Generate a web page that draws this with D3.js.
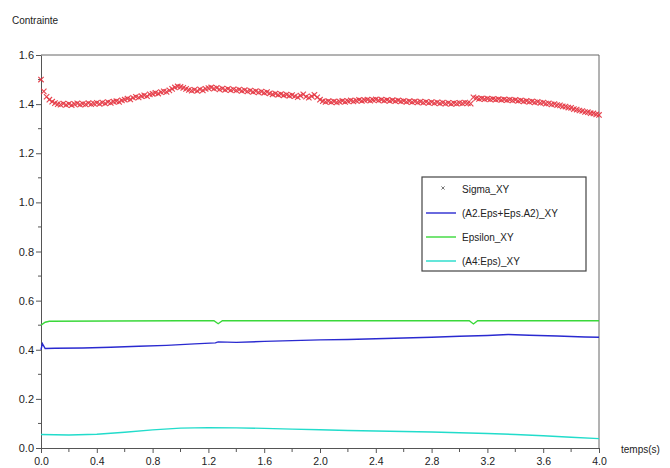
<!DOCTYPE html>
<html>
<head>
<meta charset="utf-8">
<script src="https://cdn.jsdelivr.net/npm/d3@7/dist/d3.min.js"></script>
<style>
html,body{margin:0;padding:0;background:#fff;}
svg{display:block;font-family:"Liberation Sans",Arial,sans-serif;}
</style>
</head>
<body>
<svg id="chart" width="670" height="468"></svg>
<script>
// ---- data ----
const sigmaStep = 0.02;
const sigmaValues = [
 1.500,1.452,1.430,1.418,1.410,1.404,1.400,1.398,1.402,1.397,
 1.401,1.396,1.400,1.403,1.398,1.401,1.399,1.404,1.400,1.402,
 1.405,1.401,1.406,1.403,1.408,1.405,1.410,1.412,1.409,1.415,
 1.418,1.422,1.419,1.426,1.430,1.427,1.433,1.436,1.432,1.440,
 1.442,1.446,1.443,1.449,1.452,1.450,1.456,1.462,1.468,1.472,
 1.470,1.466,1.462,1.458,1.455,1.458,1.454,1.460,1.456,1.462,
 1.465,1.468,1.463,1.466,1.460,1.463,1.458,1.462,1.457,1.460,
 1.456,1.459,1.454,1.457,1.452,1.455,1.450,1.453,1.448,1.451,
 1.446,1.449,1.444,1.440,1.443,1.438,1.441,1.436,1.439,1.434,
 1.437,1.432,1.428,1.435,1.440,1.430,1.426,1.432,1.438,1.428,
 1.418,1.412,1.409,1.412,1.408,1.411,1.407,1.410,1.413,1.409,
 1.412,1.415,1.411,1.414,1.417,1.413,1.416,1.418,1.414,1.417,
 1.419,1.415,1.418,1.414,1.417,1.413,1.416,1.412,1.415,1.411,
 1.413,1.409,1.412,1.408,1.411,1.407,1.410,1.406,1.409,1.405,
 1.408,1.404,1.407,1.403,1.406,1.402,1.405,1.401,1.404,1.402,
 1.405,1.403,1.406,1.404,1.402,1.428,1.424,1.421,1.423,1.420,
 1.422,1.419,1.421,1.418,1.420,1.417,1.419,1.416,1.418,1.415,
 1.417,1.413,1.415,1.411,1.413,1.409,1.411,1.407,1.409,1.405,
 1.406,1.402,1.403,1.399,1.400,1.396,1.395,1.391,1.390,1.386,
 1.385,1.380,1.378,1.374,1.372,1.368,1.367,1.363,1.362,1.358,
 1.356
];
const blueTimes  = [0,0.01,0.03,0.1,0.3,0.5,0.7,0.9,1.1,1.25,1.27,1.4,1.6,1.8,2.0,2.2,2.4,2.6,2.8,3.0,3.2,3.35,3.5,3.7,3.9,4.0];
const blueValues = [0.400,0.425,0.405,0.406,0.407,0.410,0.414,0.418,0.424,0.428,0.432,0.430,0.434,0.437,0.440,0.442,0.445,0.448,0.451,0.455,0.458,0.462,0.459,0.456,0.452,0.451];
const greenTimes  = [0,0.03,0.06,0.5,1.0,1.24,1.27,1.30,2.0,3.07,3.10,3.13,4.0];
const greenValues = [0.500,0.512,0.516,0.517,0.518,0.518,0.506,0.518,0.518,0.518,0.505,0.518,0.518];
const cyanTimes  = [0,0.2,0.4,0.6,0.8,1.0,1.2,1.4,1.6,1.8,2.0,2.2,2.4,2.6,2.8,3.0,3.2,3.4,3.6,3.8,4.0];
const cyanValues = [0.055,0.053,0.056,0.064,0.074,0.081,0.083,0.082,0.080,0.077,0.074,0.071,0.069,0.067,0.065,0.062,0.059,0.055,0.050,0.044,0.038];
const xTickLabels = ["0.0","0.4","0.8","1.2","1.6","2.0","2.4","2.8","3.2","3.6","4.0"];
const yTickLabels = ["0.0","0.2","0.4","0.6","0.8","1.0","1.2","1.4","1.6"];
const legendLabels = ["Sigma_XY","(A2.Eps+Eps.A2)_XY","Epsilon_XY","(A4:Eps)_XY"];

// ---- drawing ----
const svg = d3.select("#chart");
const L = 41, R = 599, T = 55, B = 448;
const x = d3.scaleLinear().domain([0,4]).range([L,R]);
const y = d3.scaleLinear().domain([0,1.6]).range([B,T]);

const axisColor = "#555";

// frame top & right
svg.append("line").attr("x1",L).attr("x2",R).attr("y1",T).attr("y2",T).attr("stroke","#666");
svg.append("line").attr("x1",R).attr("x2",R).attr("y1",T).attr("y2",B).attr("stroke","#666");

// y axis
const yMajor = yTickLabels.map(Number);
const yMinor = d3.range(0.1,1.6,0.2);
const gy = svg.append("g").attr("transform",`translate(${L},0)`);
gy.call(d3.axisLeft(y).tickValues(yMajor).tickFormat((d,i)=>yTickLabels[i]).tickSize(5).tickPadding(2).tickSizeOuter(0));
gy.select(".domain").attr("stroke",axisColor);
gy.selectAll(".tick line").attr("stroke",axisColor);
gy.selectAll(".tick text").attr("font-size",11).attr("fill","#222").attr("font-family","Liberation Sans, Arial, sans-serif");
gy.selectAll(".minor").data(yMinor).enter().append("line")
  .attr("x1",-3).attr("x2",0).attr("y1",d=>y(d)).attr("y2",d=>y(d)).attr("stroke",axisColor);

// x axis
const xMajor = xTickLabels.map(Number);
const xMinor = d3.range(0.2,4,0.4);
const gx = svg.append("g").attr("transform",`translate(0,${B})`);
gx.call(d3.axisBottom(x).tickValues(xMajor).tickFormat((d,i)=>xTickLabels[i]).tickSize(5).tickPadding(5).tickSizeOuter(0));
gx.select(".domain").attr("stroke",axisColor);
gx.selectAll(".tick line").attr("stroke",axisColor);
gx.selectAll(".tick text").attr("font-size",10.5).attr("fill","#222").attr("font-family","Liberation Sans, Arial, sans-serif");
gx.selectAll(".minor").data(xMinor).enter().append("line")
  .attr("x1",d=>x(d)).attr("x2",d=>x(d)).attr("y1",0).attr("y2",4).attr("stroke",axisColor);

// axis titles
svg.append("text").attr("x",12).attr("y",24).attr("font-size",10).attr("fill","#222").text("Contrainte");
svg.append("text").attr("x",621).attr("y",453).attr("font-size",10).attr("fill","#222").text("temps(s)");

// lines
const line = d3.line().x(d=>x(d[0])).y(d=>y(d[1]));
const series = [
  {t:cyanTimes, v:cyanValues, c:"#22dccb"},
  {t:greenTimes, v:greenValues, c:"#3ad83a"},
  {t:blueTimes, v:blueValues, c:"#2a2ad0"}
];
series.forEach(s=>{
  svg.append("path").datum(s.t.map((t,i)=>[t,s.v[i]]))
    .attr("d",line).attr("fill","none").attr("stroke",s.c).attr("stroke-width",1.4);
});

// sigma markers
const sm = 2.7;
const marks = svg.append("g").attr("stroke","#e4323e").attr("stroke-width",1.15).attr("stroke-opacity",0.9);
sigmaValues.forEach((v,i)=>{
  const px = x(i*sigmaStep), py = y(v);
  marks.append("path").attr("d",`M${px-sm},${py-sm}L${px+sm},${py+sm}M${px-sm},${py+sm}L${px+sm},${py-sm}`);
});

// legend
const lg = svg.append("g");
lg.append("rect").attr("x",422).attr("y",177).attr("width",164).attr("height",94)
  .attr("fill","#fff").attr("stroke","#444").attr("stroke-width",1.2);
const ly = [189,213,237,261];
const lc = [null,"#2a2ad0","#3ad83a","#22dccb"];
legendLabels.forEach((lab,i)=>{
  if(i===0){
    const px=443, py=ly[0]-1, s=1.6;
    lg.append("path").attr("d",`M${px-s},${py-s}L${px+s},${py+s}M${px-s},${py+s}L${px+s},${py-s}`)
      .attr("stroke","#777").attr("stroke-width",1);
  } else {
    lg.append("line").attr("x1",426).attr("x2",456).attr("y1",ly[i]).attr("y2",ly[i])
      .attr("stroke",lc[i]).attr("stroke-width",1.4);
  }
  lg.append("text").attr("x",462).attr("y",ly[i]+4).attr("font-size",10).attr("fill","#222").text(lab);
});
</script>
</body>
</html>
